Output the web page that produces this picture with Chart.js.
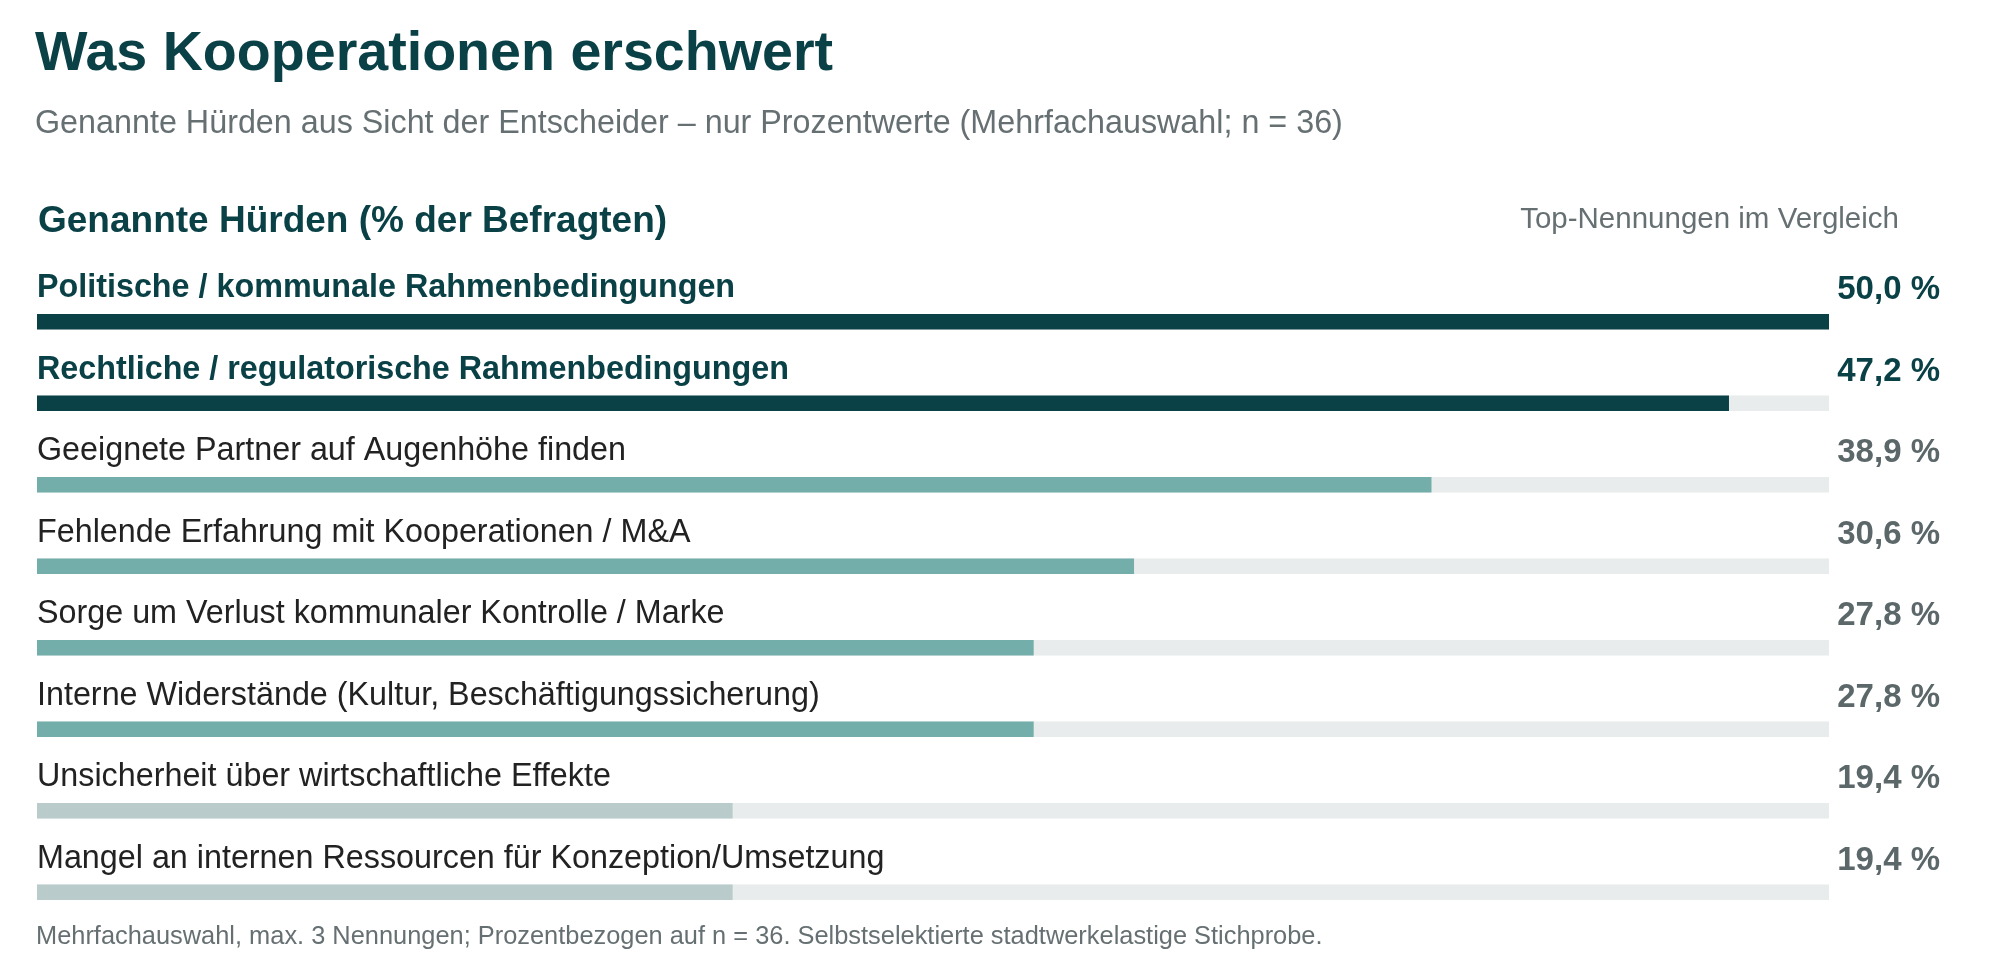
<!DOCTYPE html>
<html lang="de">
<head>
<meta charset="utf-8">
<title>Was Kooperationen erschwert</title>
<script src="https://cdn.jsdelivr.net/npm/chart.js@4.4.1/dist/chart.umd.min.js"></script>
<style>
    html, body { margin: 0; padding: 0; background: #fff; }
    body { width: 2000px; height: 970px; position: relative; overflow: hidden; font-family: "Liberation Sans", Arial, sans-serif; }
    #chart { position: absolute; left: 0; top: 0; }
    .txt { position: absolute; line-height: 1; white-space: nowrap; }
    #title { left: 35px; top: 24px; font-size: 55.6px; font-weight: bold; color: #0a4146; }
    #subtitle { left: 35px; top: 106px; font-size: 32.3px; color: #667072; }
    #heading { left: 38px; top: 201px; font-size: 37px; font-weight: bold; color: #0a4146; }
    #compare { right: 101px; top: 203px; font-size: 29.5px; color: #667072; }
    #note { left: 36px; top: 923px; font-size: 25.4px; color: #667072; }
</style>
</head>
<body>
<canvas id="chart" width="2000" height="970"></canvas>
<div class="txt" id="title">Was Kooperationen erschwert</div>
<div class="txt" id="subtitle">Genannte Hürden aus Sicht der Entscheider – nur Prozentwerte (Mehrfachauswahl; n = 36)</div>
<div class="txt" id="heading">Genannte Hürden (% der Befragten)</div>
<div class="txt" id="compare">Top-Nennungen im Vergleich</div>
<div class="txt" id="note">Mehrfachauswahl, max. 3 Nennungen; Prozentbezogen auf n = 36. Selbstselektierte stadtwerkelastige Stichprobe.</div>

<script>
// Hürden und Anteile (% der Befragten)
const categories = [
    'Politische / kommunale Rahmenbedingungen',
    'Rechtliche / regulatorische Rahmenbedingungen',
    'Geeignete Partner auf Augenhöhe finden',
    'Fehlende Erfahrung mit Kooperationen / M&A',
    'Sorge um Verlust kommunaler Kontrolle / Marke',
    'Interne Widerstände (Kultur, Beschäftigungssicherung)',
    'Unsicherheit über wirtschaftliche Effekte',
    'Mangel an internen Ressourcen für Konzeption/Umsetzung'
];
const shares = [50.0, 47.2, 38.9, 30.6, 27.8, 27.8, 19.4, 19.4];
const scaleMax = 50;

const DARK = '#0a4146';
const MID = '#74aeaa';
const LIGHT = '#b9cccb';
const TRACK = '#e8ecec';

function barColor(v) {
    if (v >= 45) return DARK;
    if (v >= 25) return MID;
    return LIGHT;
}

function fmt(v) {
    return v.toFixed(1).replace('.', ',') + ' %';
}

// labels above each bar and value on the right
const rowText = {
    id: 'rowText',
    afterDatasetsDraw(chart) {
        const ctx = chart.ctx;
        const y = chart.scales.y;
        const left = chart.chartArea.left;
        ctx.save();
        ctx.textBaseline = 'alphabetic';
        categories.forEach((cat, i) => {
            const barTop = y.getPixelForValue(i) - 7.5;
            const top = shares[i] >= 45;
            ctx.textAlign = 'left';
            ctx.font = (top ? 'bold ' : '') + '32.3px "Liberation Sans", Arial, sans-serif';
            ctx.fillStyle = top ? DARK : '#222222';
            ctx.fillText(cat, left, barTop - 17);

            ctx.textAlign = 'right';
            ctx.font = 'bold 33px "Liberation Sans", Arial, sans-serif';
            ctx.fillStyle = top ? DARK : '#5b6769';
            ctx.fillText(fmt(shares[i]), 1940, barTop - 15);
        });
        ctx.restore();
    }
};

new Chart(document.getElementById('chart'), {
    type: 'bar',
    data: {
        labels: categories,
        datasets: [
            {
                data: shares,
                backgroundColor: shares.map(barColor),
                barThickness: 15,
                grouped: false,
                order: 0
            },
            {
                data: categories.map(() => scaleMax),
                backgroundColor: TRACK,
                barThickness: 15,
                grouped: false,
                order: 1
            }
        ]
    },
    options: {
        indexAxis: 'y',
        responsive: false,
        animation: false,
        devicePixelRatio: 1,
        layout: {
            padding: { left: 37, right: 171, top: 281, bottom: 37 }
        },
        scales: {
            x: { min: 0, max: scaleMax, display: false },
            y: { display: false }
        },
        plugins: {
            legend: { display: false },
            tooltip: { enabled: false }
        }
    },
    plugins: [rowText]
});
</script>
</body>
</html>
